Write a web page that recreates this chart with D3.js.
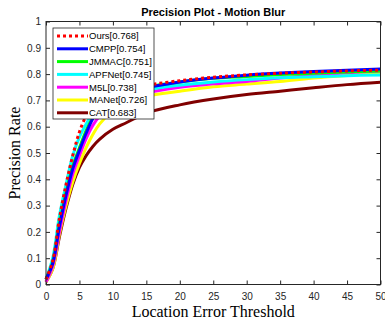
<!DOCTYPE html>
<html>
<head>
<meta charset="utf-8">
<script src="https://cdn.jsdelivr.net/npm/d3@7"></script>
<style>
  body { margin: 0; background: #fff; }
  svg { display: block; }
  .tick text { font-family: "Liberation Sans", Arial, sans-serif; font-size: 10px; fill: #262626; }
</style>
</head>
<body>
<div id="chart"></div>
<script>
// thresholds (x) and precision values per tracker
const thresholds = [0, 1, 2, 3, 4, 5, 6, 7, 8, 10, 12, 15, 20, 25, 30, 35, 40, 45, 50];
const ours   = [0.02, 0.09, 0.25, 0.38, 0.49, 0.58, 0.64, 0.675, 0.70, 0.725, 0.74, 0.757, 0.775, 0.788, 0.797, 0.803, 0.808, 0.812, 0.815];
const cmpp   = [0.02, 0.08, 0.22, 0.34, 0.44, 0.51, 0.575, 0.63, 0.665, 0.705, 0.725, 0.748, 0.77, 0.785, 0.796, 0.804, 0.81, 0.815, 0.819];
const jmmac  = [0.02, 0.085, 0.23, 0.35, 0.45, 0.52, 0.585, 0.635, 0.67, 0.71, 0.73, 0.75, 0.77, 0.784, 0.791, 0.798, 0.803, 0.808, 0.812];
const apfnet = [0.02, 0.10, 0.26, 0.38, 0.49, 0.56, 0.61, 0.65, 0.675, 0.705, 0.72, 0.74, 0.758, 0.77, 0.779, 0.786, 0.79, 0.794, 0.797];
const m5l    = [0.01, 0.07, 0.20, 0.32, 0.42, 0.49, 0.555, 0.605, 0.64, 0.68, 0.70, 0.728, 0.75, 0.763, 0.772, 0.785, 0.796, 0.805, 0.812];
const manet  = [0.01, 0.06, 0.19, 0.30, 0.39, 0.46, 0.52, 0.57, 0.61, 0.66, 0.688, 0.715, 0.735, 0.752, 0.762, 0.772, 0.785, 0.795, 0.803];
const cat    = [0.01, 0.06, 0.18, 0.29, 0.38, 0.445, 0.49, 0.525, 0.552, 0.59, 0.615, 0.652, 0.683, 0.705, 0.722, 0.735, 0.748, 0.76, 0.769];

const seriesNames = ["Ours[0.768]", "CMPP[0.754]", "JMMAC[0.751]", "APFNet[0.745]", "M5L[0.738]", "MANet[0.726]", "CAT[0.683]"];
const seriesValues = [ours, cmpp, jmmac, apfnet, m5l, manet, cat];
const seriesColors = ["#ff0000", "#0000ff", "#00ff00", "#00ffff", "#ff00ff", "#ffff00", "#800000"];

const xTicks = [0, 5, 10, 15, 20, 25, 30, 35, 40, 45, 50];
const yTicks = [0, 0.1, 0.2, 0.3, 0.4, 0.5, 0.6, 0.7, 0.8, 0.9, 1];
const yTickLabels = ["0", "0.1", "0.2", "0.3", "0.4", "0.5", "0.6", "0.7", "0.8", "0.9", "1"];

const W = 385, H = 327;
const margin = { top: 21.5, right: 4.5, bottom: 42.5, left: 46 };
const width = W - margin.left - margin.right;
const height = H - margin.top - margin.bottom;

const svg = d3.select("#chart").append("svg")
  .attr("width", W).attr("height", H);

const g = svg.append("g")
  .attr("transform", `translate(${margin.left},${margin.top})`);

const x = d3.scaleLinear().domain([0, 50]).range([0, width]);
const y = d3.scaleLinear().domain([0, 1]).range([height, 0]);

// axes, ticks pointing inward
g.append("g")
  .attr("transform", `translate(0,${height})`)
  .call(d3.axisBottom(x).tickValues(xTicks).tickSizeInner(-4).tickSizeOuter(0).tickPadding(8))
  .call(a => a.select(".domain").remove());

g.append("g")
  .call(d3.axisLeft(y).tickValues(yTicks).tickFormat((d, i) => yTickLabels[i]).tickSizeInner(-4).tickSizeOuter(0).tickPadding(5))
  .call(a => a.select(".domain").remove());

g.append("g")
  .call(d3.axisTop(x).tickValues(xTicks).tickSizeInner(-4).tickSizeOuter(0).tickFormat(""))
  .call(a => a.select(".domain").remove());

g.append("g")
  .attr("transform", `translate(${width},0)`)
  .call(d3.axisRight(y).tickValues(yTicks).tickSizeInner(-4).tickSizeOuter(0).tickFormat(""))
  .call(a => a.select(".domain").remove());

g.selectAll(".tick line").attr("stroke", "#262626");

// curves, CAT first so Ours ends on top
const line = d3.line()
  .x((d, i) => x(thresholds[i]))
  .y(d => y(d))
  .curve(d3.curveCatmullRom.alpha(0.5));

for (let k = seriesValues.length - 1; k >= 0; k--) {
  g.append("path")
    .attr("d", line(seriesValues[k]))
    .attr("fill", "none")
    .attr("stroke", seriesColors[k])
    .attr("stroke-width", 3)
    .attr("stroke-dasharray", k === 0 ? "3,3" : null);
}

// box
g.append("rect")
  .attr("width", width).attr("height", height)
  .attr("fill", "none").attr("stroke", "#262626").attr("stroke-width", 1);

// legend
const legend = svg.append("g").attr("transform", "translate(53,28)");
legend.append("rect")
  .attr("width", 101).attr("height", 91)
  .attr("fill", "#fff").attr("stroke", "#262626").attr("stroke-width", 0.8);

seriesNames.forEach((name, i) => {
  const ly = 8 + i * 12.8;
  legend.append("line")
    .attr("x1", 4).attr("x2", 35).attr("y1", ly).attr("y2", ly)
    .attr("stroke", seriesColors[i]).attr("stroke-width", 3)
    .attr("stroke-dasharray", i === 0 ? "3,3" : null);
  legend.append("text")
    .attr("x", 36).attr("y", ly).attr("dy", "0.35em")
    .style("font-family", "'Liberation Sans', Arial, sans-serif")
    .style("font-size", "9.5px")
    .attr("fill", "#000")
    .text(name);
});

// title and axis labels
svg.append("text")
  .attr("x", margin.left + width / 2).attr("y", 16)
  .attr("text-anchor", "middle")
  .style("font-family", "'Liberation Sans', Arial, sans-serif")
  .style("font-size", "11px").style("font-weight", "bold")
  .text("Precision Plot - Motion Blur");

svg.append("text")
  .attr("x", margin.left + width / 2).attr("y", 317)
  .attr("text-anchor", "middle")
  .style("font-family", "'Liberation Serif', 'Times New Roman', serif")
  .style("font-size", "16px")
  .text("Location Error Threshold");

svg.append("text")
  .attr("transform", `translate(20,${margin.top + height / 2}) rotate(-90)`)
  .attr("text-anchor", "middle")
  .style("font-family", "'Liberation Serif', 'Times New Roman', serif")
  .style("font-size", "16px")
  .text("Precision Rate");
</script>
</body>
</html>
